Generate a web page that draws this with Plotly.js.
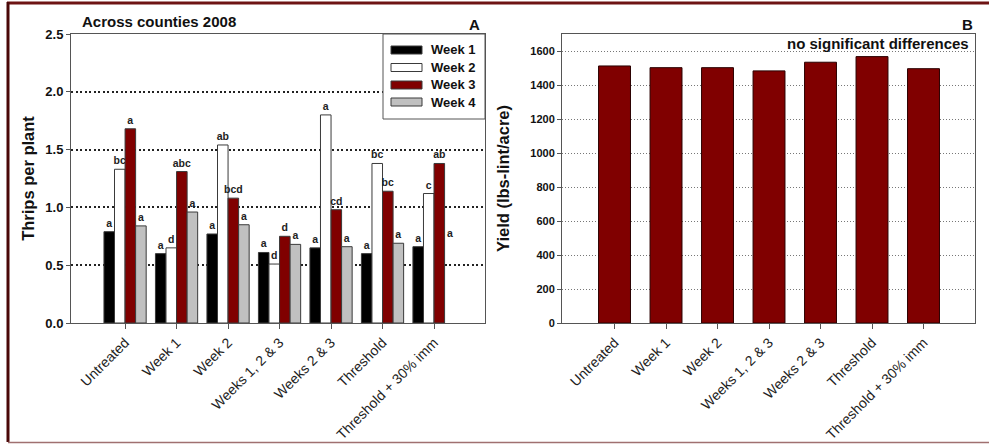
<!DOCTYPE html>
<html>
<head>
<meta charset="utf-8">
<script src="https://cdn.plot.ly/plotly-3.0.1.min.js"></script>
<style>
  html, body { margin: 0; padding: 0; background: #ffffff; }
  #chart { width: 989px; height: 444px; }
</style>
</head>
<body>
<div id="chart"></div>
<script>
// Treatments shared by both panels
const categories = ['Untreated', 'Week 1', 'Week 2', 'Weeks 1, 2 & 3', 'Weeks 2 & 3', 'Threshold', 'Threshold + 30% imm'];

// Panel A: thrips per plant by sampling week
const seriesNames = ['Week 1', 'Week 2', 'Week 3', 'Week 4'];
const week1 = [0.79, 0.60, 0.77, 0.61, 0.65, 0.60, 0.66];
const week2 = [1.33, 0.65, 1.54, 0.51, 1.80, 1.38, 1.12];
const week3 = [1.68, 1.31, 1.08, 0.75, 0.98, 1.14, 1.38];
const week4 = [0.84, 0.96, 0.85, 0.68, 0.66, 0.69, null];

// Mean separation letters for each week
const week1Letters = ['a', 'a', 'a', 'a', 'a', 'a', 'a'];
const week2Letters = ['bc', 'd', 'ab', 'd', 'a', 'bc', 'c'];
const week3Letters = ['a', 'abc', 'bcd', 'd', 'cd', 'bc', 'ab'];
const week4Letters = ['a', 'a', 'a', 'a', 'a', 'a', ''];
// Week 4 letter for the last treatment, shown without its bar
const week4LoneLetter = 'a';
const week4LoneLetterLevel = 0.71;

// Panel B: lint yield
const yieldValues = [1512, 1502, 1502, 1483, 1534, 1567, 1496];

const FONT = 'Liberation Sans, Arial, sans-serif';
const W = 989, H = 444;
const seriesColors = ['#000000', '#ffffff', '#800000', '#c0c0c0'];
const outline = '#3a3a3a';
const barGap = 0.18;

const weekValues = [week1, week2, week3, week4];
const weekLetters = [week1Letters, week2Letters, week3Letters, week4Letters];

const traces = weekValues.map((vals, i) => ({
  type: 'bar',
  name: seriesNames[i],
  x: categories,
  y: vals,
  xaxis: 'x', yaxis: 'y',
  marker: { color: seriesColors[i], line: { color: outline, width: 1 } },
  text: weekLetters[i],
  textposition: 'outside',
  constraintext: 'none',
  cliponaxis: false,
  textfont: { family: FONT, size: 10.5, color: '#222', weight: 'bold' },
  hoverinfo: 'x+y+name',
  showlegend: false
}));

traces.push({
  type: 'bar',
  name: 'Yield',
  x: categories,
  y: yieldValues,
  xaxis: 'x2', yaxis: 'y2',
  width: 0.62,
  marker: { color: '#800000', line: { color: '#2a0000', width: 1 } },
  showlegend: false
});

// pixel helpers for paper-referenced decorations (figure has zero margins)
const px = v => v / W;
const py = v => 1 - v / H;

const shapes = [
  // figure frame
  { type: 'line', xref: 'paper', yref: 'paper', x0: px(7), x1: 1, y0: py(3), y1: py(3), line: { color: '#6e1414', width: 3 } },
  { type: 'line', xref: 'paper', yref: 'paper', x0: px(8), x1: px(8), y0: py(2), y1: py(442), line: { color: '#4a0808', width: 3 } },
  { type: 'line', xref: 'paper', yref: 'paper', x0: px(8), x1: 1, y0: py(442.5), y1: py(442.5), line: { color: '#a07070', width: 1.5 } },
  // legend box
  { type: 'rect', xref: 'paper', yref: 'paper', x0: px(383), x1: px(485), y0: py(119), y1: py(34), line: { color: '#555', width: 1 }, fillcolor: '#ffffff', layer: 'above' }
];

const annotations = [];
const legendRows = [50, 67.5, 85, 102];
seriesNames.forEach((n, i) => {
  shapes.push({ type: 'rect', xref: 'paper', yref: 'paper', x0: px(391), x1: px(422), y0: py(legendRows[i] + 4), y1: py(legendRows[i] - 4), line: { color: outline, width: 1 }, fillcolor: seriesColors[i], layer: 'above' });
  annotations.push({ xref: 'paper', yref: 'paper', x: px(429), y: py(legendRows[i]), xanchor: 'left', yanchor: 'middle', showarrow: false, text: n, font: { family: FONT, size: 13, color: '#111', weight: 'bold' } });
});

// lone Week 4 letter sits where the fourth bar of the last group would be
const barW = (1 - barGap) / 4;
annotations.push({
  xref: 'x', yref: 'y', x: categories.length - 1 + 1.5 * barW, y: week4LoneLetterLevel,
  yanchor: 'bottom', showarrow: false, text: week4LoneLetter,
  font: { family: FONT, size: 10.5, color: '#222', weight: 'bold' }
});

annotations.push(
  { xref: 'paper', yref: 'paper', x: px(482), y: py(25), xanchor: 'right', yanchor: 'middle', showarrow: false, text: 'A', font: { family: FONT, size: 15, color: '#111', weight: 'bold' } },
  { xref: 'paper', yref: 'paper', x: px(975), y: py(25), xanchor: 'right', yanchor: 'middle', showarrow: false, text: 'B', font: { family: FONT, size: 15, color: '#111', weight: 'bold' } },
  { xref: 'paper', yref: 'paper', x: px(971), y: py(44), xanchor: 'right', yanchor: 'middle', showarrow: false, text: 'no significant differences', font: { family: FONT, size: 15, color: '#111', weight: 'bold' } }
);

const yDomain = [(H - 323) / H, (H - 34) / H];

const xCommon = {
  type: 'category',
  showline: true, linecolor: '#555', linewidth: 1, mirror: true,
  ticks: 'outside', ticklen: 5, tickcolor: '#555',
  tickangle: -45,
  tickfont: { family: FONT, size: 14, color: '#222' },
  showgrid: false, zeroline: false, fixedrange: true
};

const layout = {
  width: W, height: H,
  margin: { l: 0, r: 0, t: 0, b: 0 },
  paper_bgcolor: '#ffffff', plot_bgcolor: '#ffffff',
  barmode: 'group', bargap: barGap, bargroupgap: 0,
  font: { family: FONT },
  title: {
    text: 'Across counties 2008',
    xref: 'paper', yref: 'paper', x: px(82), xanchor: 'left', y: py(22), yanchor: 'middle',
    font: { family: FONT, size: 15, color: '#111', weight: 'bold' }
  },
  xaxis: Object.assign({}, xCommon, { domain: [px(71), px(485)], range: [-1.05, 6.99], anchor: 'y' }),
  xaxis2: Object.assign({}, xCommon, { domain: [px(562), px(975)], range: [-1.02, 7.0], anchor: 'y2' }),
  yaxis: {
    domain: yDomain, range: [0, 2.5], dtick: 0.5, tickformat: '.1f',
    showline: true, linecolor: '#555', linewidth: 1, mirror: true,
    ticks: 'outside', ticklen: 4, tickcolor: '#555',
    tickfont: { family: FONT, size: 13, color: '#111', weight: 'bold' },
    showgrid: true, gridcolor: '#222', gridwidth: 2, griddash: '2px,2.5px',
    zeroline: false, fixedrange: true,
    title: { text: 'Thrips per plant', standoff: 6, font: { family: FONT, size: 16.5, color: '#111', weight: 'bold' } }
  },
  yaxis2: {
    domain: yDomain, range: [0, 1700], dtick: 200, anchor: 'x2',
    showline: true, linecolor: '#555', linewidth: 1, mirror: true,
    ticks: 'outside', ticklen: 4, tickcolor: '#555',
    tickfont: { family: FONT, size: 11, color: '#111', weight: 'bold' },
    showgrid: true, gridcolor: '#777', gridwidth: 1, griddash: '1px,2px',
    zeroline: false, fixedrange: true,
    title: { text: 'Yield (lbs-lint/acre)', standoff: 16, font: { family: FONT, size: 16.5, color: '#111', weight: 'bold' } }
  },
  shapes: shapes,
  annotations: annotations,
  showlegend: false
};

Plotly.newPlot('chart', traces, layout, { displayModeBar: false, staticPlot: true });
</script>
</body>
</html>
